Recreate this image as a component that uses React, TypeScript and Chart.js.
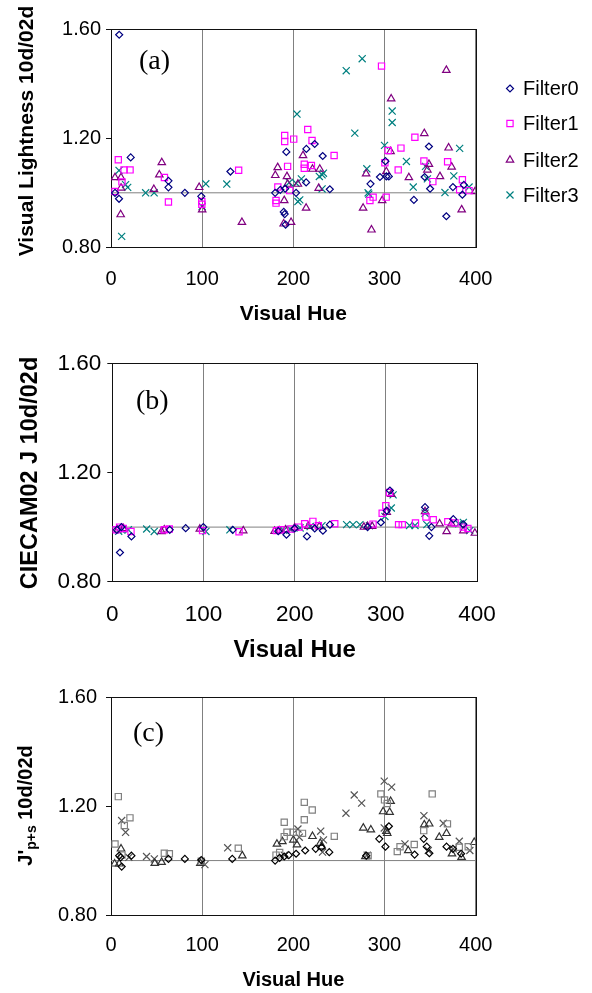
import React, { useEffect, useRef } from "react";
import { Chart, registerables } from "chart.js";

Chart.register(...registerables);

// ---------- shared axis data ----------
const xTicks = [0, 100, 200, 300, 400];
const yTicks = [0.8, 1.2, 1.6];
const refHue = [0, 400];
const refVal = [1, 1];
const seriesNames = ["Filter0", "Filter1", "Filter2", "Filter3"];

// ---------- panel (a): Visual Lightness 10d/02d ----------
const aFilter0 = [
  [4.4, 1.0], [9, 1.58], [8.8, 0.978], [21.6, 1.13], [63, 1.044], [63, 1.02], [81, 1.0], [99, 0.987],
  [131, 1.078], [180, 1.0], [185.7, 1.011], [191, 1.015], [189.5, 0.93], [190.5, 0.922], [191.5, 0.883],
  [192.3, 1.15], [203, 1.0], [214, 1.038], [214.3, 1.161], [223.4, 1.179], [232.2, 1.135], [240, 1.013],
  [284.6, 1.033], [295, 1.058], [301, 1.116], [302, 1.06], [304.7, 1.06], [332.2, 0.974], [344, 1.058],
  [348.7, 1.17], [350, 1.015], [367.8, 0.914], [375, 1.021], [385.4, 0.993], [387, 1.029],
];
const aFilter1 = [
  [4.4, 1.005], [8, 1.121], [12, 1.04], [14.3, 1.084], [20.9, 1.084], [58.6, 1.056], [63, 0.966],
  [99.6, 0.968], [99.6, 0.958], [140, 1.083], [181, 0.972], [181, 0.962], [183, 1.021], [190.5, 1.21],
  [190.5, 1.188], [193.7, 1.097], [196, 1.008], [200.4, 1.197], [212, 1.105], [212, 1.09], [215.8, 1.232],
  [219.8, 1.1], [220.5, 1.192], [244.7, 1.137], [284, 0.972], [287.5, 0.984], [296.7, 1.465], [300.4, 1.11],
  [301.8, 0.984], [304, 1.155], [315, 1.084], [318, 1.164], [333.3, 1.204], [343.2, 1.117], [353, 1.041],
  [369.2, 1.114], [382.4, 1.011], [385.4, 1.048], [392.7, 1.008],
];
const aFilter2 = [
  [4.4, 1.056], [11, 1.056], [11, 1.018], [10.6, 0.92], [47, 1.013], [53, 1.066], [55.7, 1.111],
  [96.7, 1.02], [100, 0.938], [143.6, 0.892], [180.2, 1.064], [182.8, 1.093], [189.4, 0.886], [190, 0.972],
  [193, 1.06], [193.7, 1.032], [197.5, 0.892], [205, 1.032], [210.6, 1.137], [214, 0.944], [221, 1.087],
  [227.8, 1.017], [229, 1.087], [276.5, 0.944], [279.8, 1.07], [285.7, 0.864], [297.4, 0.972], [302, 1.078],
  [306.6, 1.152], [307.3, 1.345], [326.7, 1.056], [343.6, 1.218], [347, 1.084], [348.7, 1.105], [360.8, 1.06],
  [367.8, 1.45], [370.3, 1.165], [373.6, 1.095], [384.6, 0.938], [399.3, 1.005],
];
const aFilter3 = [
  [8.8, 1.082], [11.7, 0.84], [18.3, 1.02], [16, 1.03], [38, 1.0], [47.3, 1.0], [100, 0.95], [104, 1.033],
  [127, 1.032], [195.6, 1.038], [203, 1.035], [204, 1.289], [205, 0.968], [207, 0.974], [208.8, 1.051],
  [228.5, 1.06], [231.5, 1.066], [231.5, 1.014], [233, 1.072], [258, 1.448], [267.4, 1.219], [275.5, 1.492],
  [280.6, 1.088], [282, 1.0], [282.8, 0.995], [300, 1.174], [308.4, 1.3], [308.4, 1.258], [324, 1.115],
  [331.5, 1.021], [345, 1.097], [347, 1.051], [366.3, 1.001], [376, 1.062], [382.4, 1.163], [392.7, 1.021],
];

// ---------- panel (b): CIECAM02 J 10d/02d ----------
const bFilter0 = [
  [8.4, 0.907], [5, 0.99], [10, 1.0], [21, 0.966], [63, 0.99], [80.5, 0.996], [99.8, 1.0], [132, 0.99],
  [182, 0.985], [191, 0.972], [200, 0.995], [213.5, 0.966], [222, 0.995], [231, 0.987], [238.7, 1.009],
  [280, 1.0], [294.6, 1.017], [304.5, 1.134], [301, 1.06], [343, 1.073], [347.6, 0.968], [350, 1.0],
  [374, 1.029], [385, 1.01],
];
const bFilter1 = [
  [4, 0.99], [8, 1.0], [20.5, 0.984], [12, 0.995], [57, 0.99], [62.5, 0.993], [99, 0.987], [139, 0.983],
  [180, 0.987], [185, 0.99], [196, 0.993], [205, 1.0], [211, 1.012], [220, 1.021], [226, 1.005], [244, 1.012],
  [286, 1.011], [296, 1.051], [300, 1.078], [304, 1.127], [314, 1.009], [318, 1.009], [332.5, 1.015],
  [344, 1.037], [352, 1.027], [368, 1.02], [376, 1.015], [385, 1.0], [390, 0.995],
];
const bFilter2 = [
  [6, 0.99], [12, 0.995], [54, 0.984], [57, 0.99], [96, 0.993], [143.6, 0.987], [178, 0.985], [183, 0.987],
  [190, 0.99], [200, 0.998], [215, 1.003], [227, 1.002], [276, 1.0], [280, 1.003], [285, 1.003], [301, 1.054],
  [306, 1.12], [343, 1.057], [359, 1.012], [366.7, 0.984], [372, 1.012], [385, 0.987], [397.7, 0.978],
];
const bFilter3 = [
  [7, 0.985], [10, 0.99], [17.6, 0.99], [37.7, 0.993], [46, 0.984], [102.7, 0.984], [129, 0.99], [188, 0.988],
  [195, 0.992], [206, 0.997], [217, 1.002], [230, 1.005], [257, 1.009], [264, 1.009], [271.6, 1.009],
  [282, 1.005], [299, 1.039], [306, 1.07], [308, 1.118], [326, 1.006], [332, 1.006], [343, 1.051],
  [345, 1.009], [380, 1.012], [385, 1.017], [392, 0.987],
];

// ---------- panel (c): J'p+s 10d/02d ----------
const cFilter0 = [
  [9, 1.018], [10.6, 1.012], [22.4, 1.018], [11.7, 0.978], [63, 1.006], [81, 1.006], [99, 1.002], [133, 1.006],
  [180, 1.0], [185, 1.01], [190, 1.015], [195, 1.02], [203, 1.025], [213, 1.037], [224.5, 1.043], [231, 1.049],
  [239.4, 1.031], [280, 1.018], [294.2, 1.08], [301, 1.051], [304.8, 1.126], [333, 1.022], [343, 1.08],
  [346.3, 1.051], [349.2, 1.027], [368, 1.051], [375, 1.043], [384, 1.025],
];
const cFilter1 = [
  [8, 1.235], [20.8, 1.157], [14.6, 1.129], [4.4, 1.061], [12, 1.02], [58.5, 1.027], [64, 1.025], [99, 0.998],
  [139.6, 1.045], [181, 1.02], [185, 1.03], [190, 1.141], [190, 1.088], [193, 1.104], [200, 1.104],
  [212, 1.214], [220.7, 1.186], [212, 1.15], [210, 1.1], [244.9, 1.089], [282, 1.018], [296, 1.245],
  [300, 1.223], [303, 1.21], [314, 1.033], [317, 1.051], [332.6, 1.059], [343, 1.11], [352.3, 1.245],
  [369, 1.135], [382, 1.049], [391.8, 1.051],
];
const cFilter2 = [
  [11, 1.043], [4, 0.988], [9, 0.988], [48, 0.99], [55.5, 0.994], [98, 0.99], [144, 1.018], [182, 1.061],
  [188, 1.07], [200, 1.076], [204, 1.058], [221, 1.089], [229.5, 1.064], [231, 1.051], [276.7, 1.12],
  [285, 1.113], [279, 1.015], [298.5, 1.18], [305.6, 1.178], [306.7, 1.218], [302, 1.108], [303, 1.1],
  [326, 1.037], [343.6, 1.132], [349, 1.135], [360, 1.086], [368, 1.1], [374, 1.025], [384.5, 1.012],
  [398.4, 1.067],
];
const cFilter3 = [
  [11.7, 1.147], [16, 1.104], [19.6, 1.012], [39, 1.015], [47.5, 1.006], [103, 0.985], [128, 1.047],
  [190, 1.02], [205, 1.116], [206.5, 1.086], [230, 1.108], [233, 1.076], [232, 1.031], [257.7, 1.174],
  [266.8, 1.241], [274.9, 1.211], [281, 1.02], [299.7, 1.292], [307.8, 1.27], [299.7, 1.12], [322.4, 1.061],
  [343.2, 1.165], [348, 1.037], [364.4, 1.137], [375.4, 1.043], [382, 1.071], [393.6, 1.037],
];

const colorSet = ["#000080", "#FF00FF", "#800080", "#008080"];
const graySet = ["#000000", "#808080", "#333333", "#555555"];
const pointStyles = ["rectRot", "rect", "triangle", "crossRot"];
const pointRadii = [3.5, 4.4, 4.3, 5];

const SANS = "'Liberation Sans', Arial, Helvetica, sans-serif";
const SERIF = "'Liberation Serif', 'Times New Roman', serif";

type Piece = { text: string; size: number; dy?: number };

type PanelDef = {
  top: number;
  height: number;
  padTop: number;
  padRight: number;
  yAxisW: number;
  xAxisH: number;
  tickFont: number;
  tickPadX: number;
  tickPadY: number;
  xTitleFont: number;
  xTitlePadB: number;
  yTitle: Piece[];
  yTitleX: number;
  yTitleY: number;
  label: string;
  labelX: number;
  labelY: number;
  series: number[][][];
  colors: string[];
  legend: boolean;
  xScale?: number;
};

const panels: PanelDef[] = [
  {
    top: 0, height: 330, padTop: 29.3, padRight: 116.3, yAxisW: 111, xAxisH: 82.7,
    tickFont: 20, tickPadX: 20, tickPadY: 5, xTitleFont: 21, xTitlePadB: 3,
    yTitle: [{ text: "Visual Lightness 10d/02d", size: 21 }], yTitleX: 33, yTitleY: 131,
    label: "(a)", labelX: 139, labelY: 62,
    series: [aFilter0, aFilter1, aFilter2, aFilter3], colors: colorSet, legend: true,
  },
  {
    top: 330, height: 340, padTop: 33.3, padRight: 115, yAxisW: 112.3, xAxisH: 88.3,
    tickFont: 22.5, tickPadX: 19.8, tickPadY: 6, xTitleFont: 24, xTitlePadB: 5.6,
    yTitle: [{ text: "CIECAM02 J 10d/02d", size: 23.5 }], yTitleX: 36.5, yTitleY: 473,
    label: "(b)", labelX: 136, labelY: 402,
    series: [bFilter0, bFilter1, bFilter2, bFilter3], colors: colorSet, legend: false,
  },
  {
    top: 670, height: 323, padTop: 27.3, padRight: 116.3, yAxisW: 111, xAxisH: 78,
    tickFont: 20, tickPadX: 18.5, tickPadY: 9, xTitleFont: 20, xTitlePadB: 1,
    yTitle: [
      { text: "J'", size: 20 },
      { text: "p+s", size: 14, dy: 4 },
      { text: " 10d/02d", size: 20 },
    ],
    yTitleX: 31.7, yTitleY: 805.5,
    label: "(c)", labelX: 133, labelY: 733.5,
    series: [cFilter0, cFilter1, cFilter2, cFilter3], colors: graySet, legend: false,
  },
];

function drawMarker(ctx: CanvasRenderingContext2D, style: string, x: number, y: number, r: number, color: string) {
  ctx.save();
  ctx.strokeStyle = color;
  ctx.lineWidth = 1.2;
  ctx.beginPath();
  if (style === "rectRot") {
    ctx.moveTo(x, y - r);
    ctx.lineTo(x + r, y);
    ctx.lineTo(x, y + r);
    ctx.lineTo(x - r, y);
    ctx.closePath();
  } else if (style === "rect") {
    const s = r * Math.SQRT1_2;
    ctx.rect(x - s, y - s, 2 * s, 2 * s);
  } else if (style === "triangle") {
    for (let i = 0; i < 3; i++) {
      const a = (i * 2 * Math.PI) / 3;
      const px = x + Math.sin(a) * r;
      const py = y - Math.cos(a) * r;
      if (i === 0) ctx.moveTo(px, py);
      else ctx.lineTo(px, py);
    }
    ctx.closePath();
  } else {
    const o = r * Math.SQRT1_2;
    ctx.moveTo(x - o, y - o);
    ctx.lineTo(x + o, y + o);
    ctx.moveTo(x + o, y - o);
    ctx.lineTo(x - o, y + o);
  }
  ctx.stroke();
  ctx.restore();
}

function Panel({ def }: { def: PanelDef }) {
  const ref = useRef<HTMLCanvasElement | null>(null);

  useEffect(() => {
    const canvas = ref.current;
    if (!canvas) return;

    const datasets: any[] = def.series.map((pts, i) => ({
      label: seriesNames[i],
      data: pts.map(([x, y]) => ({ x, y })),
      pointStyle: pointStyles[i],
      pointRadius: pointRadii[i],
      pointBorderWidth: 1.2,
      borderColor: def.colors[i],
      pointBorderColor: def.colors[i],
      backgroundColor: "rgba(0,0,0,0)",
      pointBackgroundColor: "rgba(0,0,0,0)",
      showLine: false,
      order: 0,
    }));
    datasets.push({
      label: "ref",
      data: refHue.map((x, i) => ({ x, y: refVal[i] })),
      showLine: true,
      pointRadius: 0,
      borderColor: "#808080",
      borderWidth: 1,
      order: 5,
    });

    const decor = {
      id: "decor",
      beforeDatasetsDraw(chart: any) {
        const { ctx, chartArea: a } = chart;
        ctx.save();
        ctx.strokeStyle = "#111";
        ctx.lineWidth = 1;
        ctx.strokeRect(Math.round(a.left) + 0.5, Math.round(a.top) + 0.5, Math.round(a.right - a.left), Math.round(a.bottom - a.top));
        ctx.restore();
      },
      afterDraw(chart: any) {
        const ctx: CanvasRenderingContext2D = chart.ctx;
        // y-axis title (rotated)
        ctx.save();
        ctx.translate(def.yTitleX, def.yTitleY - def.top);
        ctx.rotate(-Math.PI / 2);
        ctx.textBaseline = "alphabetic";
        ctx.textAlign = "left";
        ctx.fillStyle = "#000";
        let total = 0;
        for (const p of def.yTitle) {
          ctx.font = `bold ${p.size}px ${SANS}`;
          total += ctx.measureText(p.text).width;
        }
        let x = -total / 2;
        for (const p of def.yTitle) {
          ctx.font = `bold ${p.size}px ${SANS}`;
          ctx.fillText(p.text, x, p.dy || 0);
          x += ctx.measureText(p.text).width;
        }
        ctx.restore();

        // panel label
        ctx.save();
        ctx.font = `28px ${SERIF}`;
        ctx.fillStyle = "#000";
        ctx.textBaseline = "middle";
        ctx.textAlign = "left";
        ctx.fillText(def.label, def.labelX, def.labelY - def.top);
        ctx.restore();

        // legend
        if (def.legend) {
          const rows = [88.5, 123.5, 160, 195];
          ctx.save();
          ctx.font = `20px ${SANS}`;
          ctx.fillStyle = "#000";
          ctx.textBaseline = "middle";
          ctx.textAlign = "left";
          seriesNames.forEach((name, i) => {
            const y = rows[i] - def.top;
            drawMarker(ctx, pointStyles[i], 510, y, pointRadii[i], def.colors[i]);
            ctx.fillStyle = "#000";
            ctx.fillText(name, 523, y + 1);
          });
          ctx.restore();
        }
      },
    };

    const chart = new Chart(canvas, {
      type: "scatter",
      data: { datasets },
      options: {
        animation: false,
        responsive: false,
        maintainAspectRatio: false,
        events: [],
        layout: { padding: { top: def.padTop, right: def.padRight, bottom: 0, left: 0 } },
        plugins: { legend: { display: false }, tooltip: { enabled: false }, title: { display: false } },
        scales: {
          x: {
            type: "linear",
            min: 0,
            max: 400,
            afterBuildTicks: (s: any) => {
              s.ticks = xTicks.map((v) => ({ value: v }));
            },
            afterFit: (s: any) => {
              s.height = def.xAxisH;
            },
            grid: { color: "#808080", lineWidth: 1, drawTicks: false },
            border: { display: true, color: "#111", width: 1 },
            ticks: {
              color: "#000",
              font: { family: SANS, size: def.tickFont },
              padding: def.tickPadX,
              maxRotation: 0,
              autoSkip: false,
              callback: (v: any) => String(v),
            },
            title: {
              display: true,
              text: "Visual Hue",
              color: "#000",
              font: { family: SANS, size: def.xTitleFont, weight: "bold" },
              padding: { top: 0, bottom: def.xTitlePadB },
            },
          },
          y: {
            type: "linear",
            min: 0.8,
            max: 1.6,
            afterBuildTicks: (s: any) => {
              s.ticks = yTicks.map((v) => ({ value: v }));
            },
            afterFit: (s: any) => {
              s.width = def.yAxisW;
            },
            grid: { drawOnChartArea: false, drawTicks: true, tickLength: 5, color: "#111" },
            border: { display: true, color: "#111", width: 1 },
            ticks: {
              color: "#000",
              font: { family: SANS, size: def.tickFont },
              padding: def.tickPadY,
              autoSkip: false,
              callback: (v: any) => Number(v).toFixed(2),
            },
            title: { display: false },
          },
        },
      } as any,
      plugins: [decor],
    });

    return () => chart.destroy();
  }, [def]);

  return (
    <canvas
      ref={ref}
      width={592}
      height={def.height}
      style={{ position: "absolute", left: 0, top: def.top, width: 592, height: def.height, display: "block" }}
    />
  );
}

export default function App() {
  return (
    <div style={{ position: "absolute", left: 0, top: 0, width: 592, height: 993, background: "#fff", overflow: "hidden" }}>
      {panels.map((p, i) => (
        <Panel key={i} def={p} />
      ))}
    </div>
  );
}
